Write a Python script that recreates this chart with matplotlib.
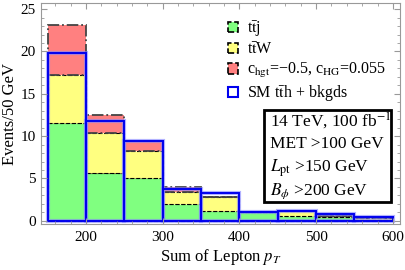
import matplotlib.pyplot as plt
import numpy as np
from matplotlib.patches import Patch, Rectangle

plt.rcParams['font.family'] = ['Liberation Serif', 'DejaVu Serif']
plt.rcParams['mathtext.fontset'] = 'stix'

# Histogram data (bins of 50 GeV from 150 to 600)
bin_edges = [150, 200, 250, 300, 350, 400, 450, 500, 550, 600]
ttj = [11.6, 5.7, 5.1, 2.0, 1.1, 1.05, 0.55, 0.5, 0.15]
ttw_top = [17.2, 10.4, 8.3, 3.4, 2.85, 1.05, 1.1, 0.6, 0.3]
signal_top = [23.1, 12.5, 9.45, 3.95, 2.85, 1.05, 1.1, 0.6, 0.5]
sm_total = [19.8, 11.8, 9.4, 3.7, 3.3, 1.05, 1.2, 0.75, 0.4]

left = np.array(bin_edges[:-1])
width = np.diff(bin_edges)
ttw = np.array(ttw_top) - np.array(ttj)
sig = np.array(signal_top) - np.array(ttw_top)

fig = plt.figure(figsize=(4.05, 2.7), dpi=100)
ax = fig.add_axes([0.1005, 0.170, 0.8875, 0.818])

ax.bar(left, ttj, width=width, align='edge', color='#80ff80',
       edgecolor='black', linestyle='--', linewidth=0.8)
ax.bar(left, ttw, width=width, bottom=ttj, align='edge', color='#ffff80',
       edgecolor='black', linestyle='--', linewidth=0.8)
ax.bar(left, sig, width=width, bottom=ttw_top, align='edge', color='#ff8080',
       edgecolor='#444444', linestyle='-.', linewidth=1.3)

# SM ttH + backgrounds as outline
ax.bar(left, sm_total, width=width, align='edge', fill=False,
       edgecolor='#8080ff', linewidth=3.0, alpha=0.6)
ax.bar(left, sm_total, width=width, align='edge', fill=False,
       edgecolor='#0000ee', linewidth=1.4)

ax.set_xlim(141, 609.5)
ax.set_ylim(-0.39, 25.7)
ax.set_xticks([200, 300, 400, 500, 600])
ax.set_xticks(np.arange(160, 610, 20), minor=True)
ax.set_yticks([0, 5, 10, 15, 20, 25])
ax.set_yticks(np.arange(0, 26, 1), minor=True)
ax.tick_params(which='both', direction='in', top=True, right=True,
               color='#999999', labelsize=11)
ax.tick_params(which='major', length=4, width=0.8)
ax.tick_params(which='minor', length=2.2, width=0.6)
ax.tick_params(axis='x', pad=5)
for s in ax.spines.values():
    s.set_color('#999999')

ax.set_xlabel(r'Sum of Lepton $p_T$', fontsize=12, labelpad=2)
ax.set_ylabel('Events/50 GeV', fontsize=12, labelpad=2)

handles = [
    Patch(facecolor='#80ff80', edgecolor='black', linestyle='--', linewidth=1.2),
    Patch(facecolor='#ffff80', edgecolor='black', linestyle='--', linewidth=1.2),
    Patch(facecolor='#ff8080', edgecolor='black', linestyle='--', linewidth=1.2),
    Patch(facecolor='white', edgecolor='#0000ee', linewidth=1.5),
]
labels = [r't$\bar{\rm t}$j', r't$\bar{\rm t}$W',
          r'c$_{\rm hgt}$=−0.5, c$_{\rm HG}$=0.055', r'SM t$\bar{\rm t}$h + bkgds']
fig.legend(handles, labels, loc='upper left', bbox_to_anchor=(228 / 405, 1 - 19 / 270),
           frameon=False, fontsize=11.5, handlelength=0.6, handleheight=0.6,
           handletextpad=0.6, labelspacing=0.2, borderpad=0, borderaxespad=0)

# cuts box
fig.patches.append(Rectangle((264 / 405, 1 - 202 / 270), 127 / 405, 92 / 270,
                             transform=fig.transFigure, fill=False,
                             edgecolor='black', linewidth=2))
cuts = ['14 TeV, 100 fb$^{-1}$', 'MET >100 GeV',
        r'$L_{\rm pt}$ >150 GeV', r'$B_{\phi}$ >200 GeV']
for i, t in enumerate(cuts):
    fig.text(270 / 405, 1 - (121 + i * 23.5) / 270, t, fontsize=12.5,
             va='center', ha='left')

fig.savefig('out.png', dpi=100)
